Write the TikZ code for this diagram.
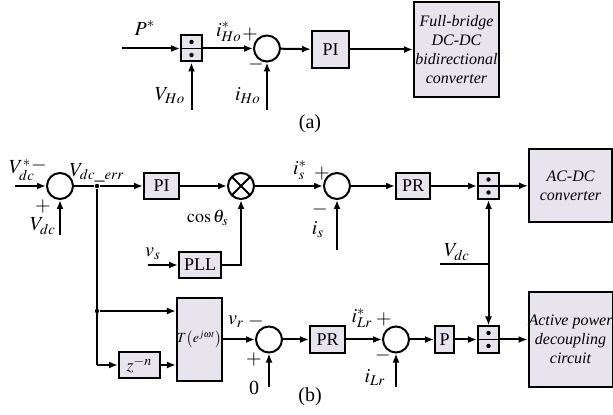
\documentclass[tikz,border=0pt]{standalone}
\usepackage{mathptmx}
\usepackage{fontspec}
\setmainfont{Liberation Serif}
\usetikzlibrary{arrows.meta,calc}
\definecolor{blkfill}{HTML}{E8E4EE}

\begin{document}
\begin{tikzpicture}[x=0.5pt,y=-0.5pt,
    blk/.style={draw,line width=1pt,fill=blkfill,inner sep=0pt,font=\small},
    sumc/.style={draw,circle,line width=1pt,minimum size=13pt,inner sep=0pt},
    mulc/.style={sumc,path picture={
        \draw[line width=1pt] (path picture bounding box.north west) -- (path picture bounding box.south east);
        \draw[line width=1pt] (path picture bounding box.north east) -- (path picture bounding box.south west);}},
    divbox/.style={blk,minimum width=10.5pt,minimum height=13pt,path picture={
        \draw[line width=0.8pt] (path picture bounding box.west) -- (path picture bounding box.east);
        \fill[black] ($(path picture bounding box.center)!0.5!(path picture bounding box.north)$) circle (1.1pt);
        \fill[black] ($(path picture bounding box.center)!0.5!(path picture bounding box.south)$) circle (1.1pt);}},
    sig/.style={line width=1pt,-{Latex[length=4.5pt,width=3.5pt]}},
    wire/.style={line width=1pt},
    dot/.style={circle,fill,inner sep=0pt,minimum size=2.2pt}]
\useasboundingbox (0,0) rectangle (613,415);

% (a) DC-DC converter loop
\coordinate (pin) at (122,48.5);
\node[divbox] (diva) at (191.5,48.5) {};
\coordinate (vho) at (191.5,110);
\node[sumc] (suma) at (267,48.5) {};
\coordinate (iho) at (267,110);
\node[blk,minimum width=18.5pt,minimum height=18.5pt] (pia) at (330.5,49.5) {PI};
\node[blk,minimum width=42.5pt,minimum height=47.5pt,align=center,font=\footnotesize\itshape] (fb) at (456.5,49.5)
    {Full-bridge\\DC-DC\\bidirectional\\converter};

\draw[sig] (pin) -- (diva);
\draw[sig] (vho) -- (diva);
\draw[sig] (diva) -- (suma);
\draw[sig] (iho) -- (suma);
\draw[sig] (suma) -- (pia);
\draw[sig] (pia) -- (fb);

\node (lp) at (145,28) {$P^{*}$};
\node (lvho) at (170,96) {$V_{Ho}$};
\node (lihs) at (229,32) {$i^{*}_{Ho}$};
\node (lpa) at (250,35) {$+$};
\node (lma) at (256,65) {$-$};
\node (liho) at (248,96) {$i_{Ho}$};
\node (capa) at (310,124) {(a)};

% (b) AC-DC converter and decoupling loops
\coordinate (vdcs) at (15,186);
\node[sumc] (sum1) at (60,186) {};
\coordinate (vdcf) at (60,235);
\node[dot] (j1) at (97,186) {};
\node[blk,minimum width=17.5pt,minimum height=13pt] (pib) at (161.5,186) {PI};
\node[mulc] (mul) at (241,186) {};
\coordinate (vsin) at (148,265);
\node[blk,minimum width=21pt,minimum height=13pt] (pll) at (200,265) {PLL};
\node[sumc] (sum2) at (337,186) {};
\coordinate (isf) at (337,250);
\node[blk,minimum width=17pt,minimum height=13pt] (pra) at (413,186) {PR};
\node[divbox] (divb) at (488.5,186) {};
\node[blk,minimum width=41.5pt,minimum height=36.5pt,align=center,font=\footnotesize\itshape] (acdc) at (570.5,185.5)
    {AC-DC\\converter};

\coordinate (vdcl) at (440,264);
\coordinate (vdcc) at (488.5,264);
\node[divbox] (divc) at (488.5,339.5) {};
\node[blk,minimum width=41.5pt,minimum height=47.5pt,align=center,font=\footnotesize\itshape] (apd) at (570.5,339.5)
    {Active power\\decoupling\\circuit};
\node[blk,minimum width=9.5pt,minimum height=13.5pt] (pb) at (444.5,339.5) {P};
\node[sumc] (sum4) at (396,339.5) {};
\coordinate (ilrf) at (396,387);
\node[blk,minimum width=17.5pt,minimum height=13.5pt] (prb) at (327.5,339.5) {PR};
\node[sumc] (sum3) at (269,339.5) {};
\coordinate (zf) at (269,387);
\node[blk,minimum width=22.5pt,minimum height=41.5pt,font=\scriptsize] (tb) at (199.5,339.5) {$T\big(e^{j\omega t}\big)$};
\node[blk,minimum width=20.5pt,minimum height=13pt] (zb) at (139.5,365) {$z^{-n}$};
\node[dot] (j2) at (97,311) {};
\coordinate (zc) at (97,365);

\draw[sig] (vdcs) -- (sum1);
\draw[sig] (vdcf) -- (sum1);
\draw[wire] (sum1) -- (j1);
\draw[sig] (j1) -- (pib);
\draw[sig] (pib) -- (mul);
\draw[sig] (vsin) -- (pll);
\draw[sig] (pll) -| (mul);
\draw[sig] (mul) -- (sum2);
\draw[sig] (isf) -- (sum2);
\draw[sig] (sum2) -- (pra);
\draw[sig] (pra) -- (divb);
\draw[sig] (divb) -- (acdc);
\draw[wire] (vdcl) -- (vdcc);
\draw[sig] (vdcc) -- (divb);
\draw[sig] (vdcc) -- (divc);
\draw[wire] (j1) -- (zc);
\draw[sig] (zc) -- (zb);
\draw[sig] (zb) -- (zb -| tb.west);
\draw[sig] (j2) -- (j2 -| tb.west);
\draw[sig] (tb) -- (sum3);
\draw[sig] (zf) -- (sum3);
\draw[sig] (sum3) -- (prb);
\draw[sig] (prb) -- (sum4);
\draw[sig] (ilrf) -- (sum4);
\draw[sig] (sum4) -- (pb);
\draw[sig] (pb) -- (divc);
\draw[sig] (divc) -- (apd);

\node (lvdcs) at (22,170) {$V^{*}_{dc}$};
\node (lm1) at (39,166) {$-$};
\node (lp1) at (43,207) {$+$};
\node (lvdc) at (43,226) {$V_{dc}$};
\node (lerr) at (97,173) {$V_{dc\_err}$};
\node (lcos) at (208,218) {\small$\cos\theta_{s}$};
\node (lvs) at (153,254) {$v_{s}$};
\node (liss) at (300,170) {$i^{*}_{s}$};
\node (lp2) at (322,174) {$+$};
\node (lm2) at (320,210) {$-$};
\node (lis) at (318,230) {$i_{s}$};
\node (lvdc2) at (457,252) {$V_{dc}$};
\node (lvr) at (236,322) {$v_{r}$};
\node (lm3) at (256,322) {$-$};
\node (lp3) at (254,360) {$+$};
\node (lzero) at (254,388) {0};
\node (lilrs) at (362,318) {$i^{*}_{Lr}$};
\node (lp4) at (384,320) {$+$};
\node (lm4) at (383,355) {$-$};
\node (lilr) at (375,378) {$i_{Lr}$};
\node (capb) at (310,397) {(b)};
\end{tikzpicture}
\end{document}
